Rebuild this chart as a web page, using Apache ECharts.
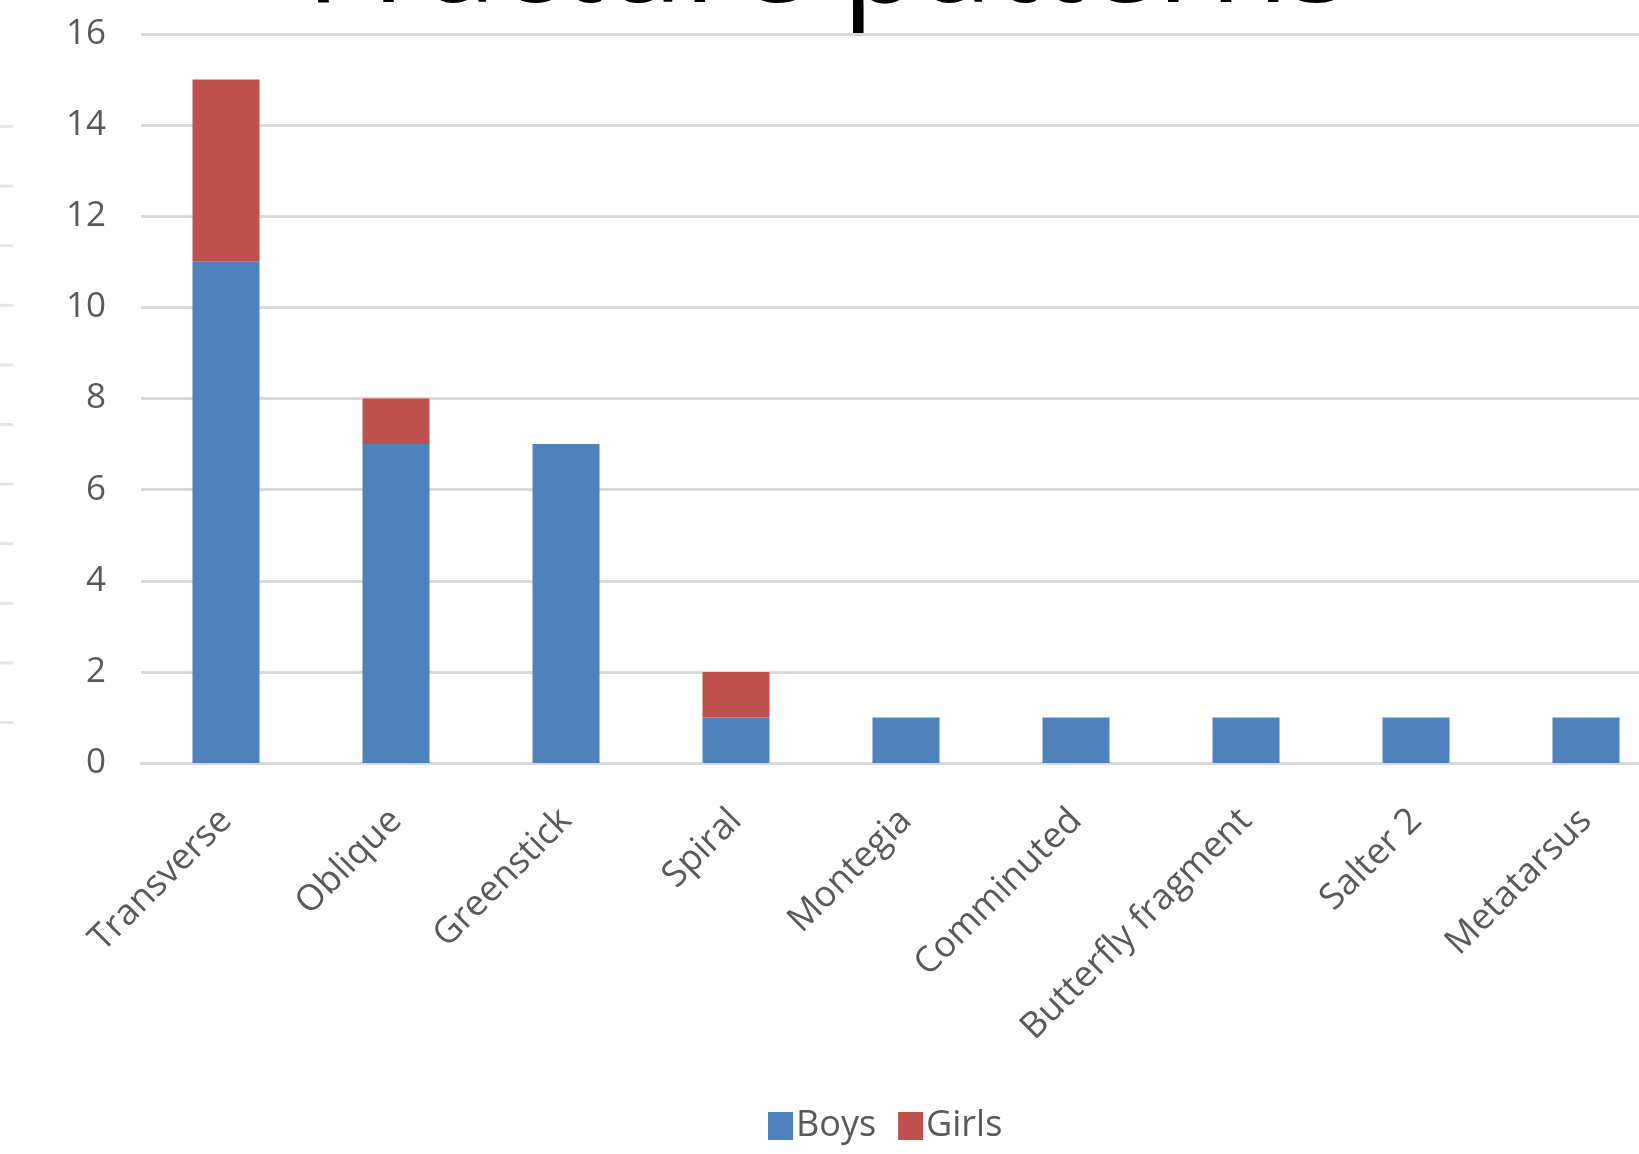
<!DOCTYPE html>
<html>
<head>
<meta charset="utf-8">
<title>Fracture patterns</title>
<script src="https://cdn.jsdelivr.net/npm/echarts@6/dist/echarts.min.js"></script>
<style>
  html, body { margin: 0; padding: 0; background: #fff; overflow: hidden; }
  /* the original chart runs past the right edge of the picture */
  #chart { width: 1671px; height: 1154px; }
</style>
</head>
<body>
<div id="chart"></div>
<script>
// fracture types and counts per sex
const categories = ["Transverse", "Oblique", "Greenstick", "Spiral", "Montegia",
  "Comminuted", "Butterfly fragment", "Salter 2", "Metatarsus"];
const boys = [11, 7, 7, 1, 1, 1, 1, 1, 1];
const girls = [4, 1, 0, 1, 0, 0, 0, 0, 0];
const yTicks = { min: 0, max: 16, interval: 2 };

const FONT = "Open Sans";
const GREY = "#595959";

// faint tick marks of a neighbouring chart, cut off at the left edge
const edgeMarks = [];
for (let i = 0; i < 11; i++) {
  edgeMarks.push({
    type: "rect",
    shape: { x: 0, y: 125 + i * 59.6, width: 13, height: 3 },
    style: { fill: "#E4E4E4" },
    silent: true
  });
}

const chart = echarts.init(document.getElementById("chart"));

chart.setOption({
  animation: false,
  backgroundColor: "#ffffff",
  textStyle: { fontFamily: FONT },
  graphic: [
    {
      // title is cut off at the top of the picture
      type: "text",
      x: 828,
      y: -35,
      style: {
        text: "Fracture patterns",
        font: "129px 'Open Sans'",
        fill: "#000000",
        align: "center",
        verticalAlign: "middle"
      }
    }
  ].concat(edgeMarks),
  legend: {
    data: ["Boys", "Girls"],
    left: 763,
    top: 1103,
    itemWidth: 25,
    itemHeight: 28,
    itemGap: 22,
    icon: "rect",
    textStyle: { fontFamily: FONT, fontSize: 36, color: GREY, padding: [0, 0, 0, -2] }
  },
  grid: {
    left: 141,
    right: 0,
    top: 34,
    bottom: 391
  },
  xAxis: {
    type: "category",
    data: categories,
    axisTick: { show: false },
    axisLine: { lineStyle: { color: "#D9D9D9", width: 3 } },
    axisLabel: {
      rotate: 45,
      interval: 0,
      margin: 52,
      fontFamily: FONT,
      fontSize: 36,
      color: GREY
    }
  },
  yAxis: {
    type: "value",
    min: yTicks.min,
    max: yTicks.max,
    interval: yTicks.interval,
    axisLine: { show: false },
    axisTick: { show: false },
    splitLine: { lineStyle: { color: "#D9D9D9", width: 3 } },
    axisLabel: {
      margin: 35,
      fontFamily: FONT,
      fontSize: 35,
      color: GREY
    }
  },
  series: [
    {
      name: "Boys",
      type: "bar",
      stack: "total",
      data: boys,
      barWidth: 67,
      itemStyle: { color: "#4F81BD" }
    },
    {
      name: "Girls",
      type: "bar",
      stack: "total",
      data: girls,
      barWidth: 67,
      itemStyle: { color: "#C0504D" }
    }
  ]
});
</script>
</body>
</html>
